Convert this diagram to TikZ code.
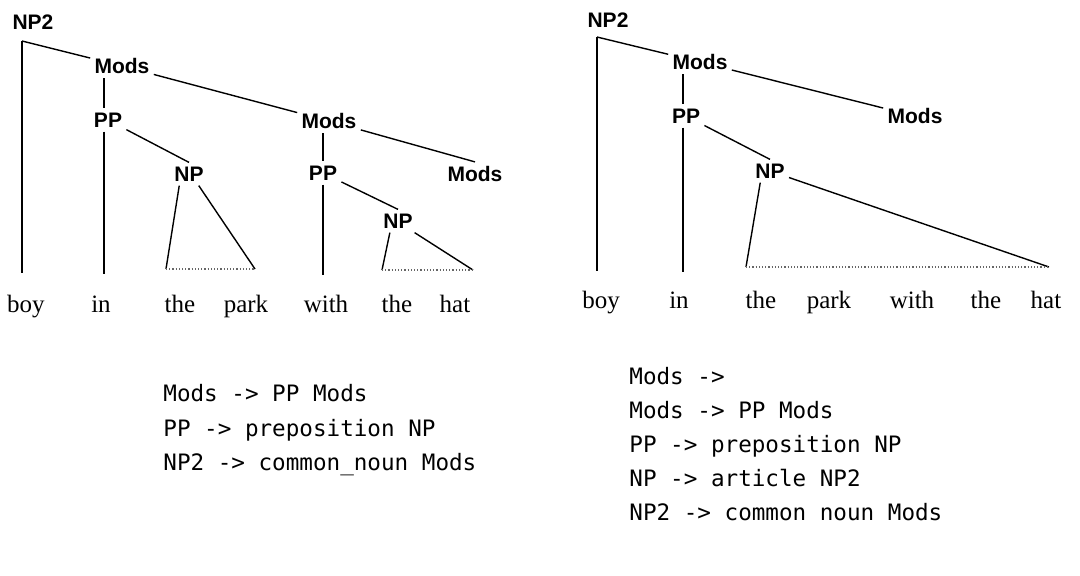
\documentclass[tikz,border=0pt]{standalone}
\usepackage{fontspec}
\setmainfont{Liberation Serif}
\setsansfont{Liberation Sans}
\setmonofont{DejaVu Sans Mono}
\usepackage{tikz}

\tikzset{
    cat/.style = {inner sep = 2pt, font = \fontsize{10.5}{12}\sffamily\bfseries},
    word/.style = {inner sep = 0pt, anchor = base, font = \fontsize{12.5}{14}\selectfont},
    rule/.style = {inner sep = 0pt, anchor = base west, font = \fontsize{11.3}{14}\ttfamily},
    branch/.style = {line width = 0.7pt},
    span/.style = {densely dotted, line width = 0.6pt, black!60}
}

\begin{document}
\begin{tikzpicture}[x = 0.5pt, y = -0.5pt]
        \useasboundingbox (0, 0) rectangle (1080, 575);

        % left tree
        \node[cat] (l-np2) at (33, 22) {NP2};
        \node[cat] (l-mods1) at (122, 66) {Mods};
        \node[cat] (l-pp1) at (108, 120) {PP};
        \node[cat] (l-np1) at (189, 174) {NP};
        \node[cat] (l-mods2) at (329, 121) {Mods};
        \node[cat] (l-pp2) at (323, 173) {PP};
        \node[cat] (l-mods3) at (475, 174) {Mods};
        \node[cat] (l-np3) at (398, 221) {NP};

        \node[word] (l-boy) at (26, 312) {boy};
        \node[word] (l-in) at (101, 312) {in};
        \node[word] (l-the1) at (180, 312) {the};
        \node[word] (l-park) at (246, 312) {park};
        \node[word] (l-with) at (326, 312) {with};
        \node[word] (l-the2) at (397, 312) {the};
        \node[word] (l-hat) at (455, 312) {hat};

        \coordinate (l-c) at (22, 41);
        \coordinate (l-boy-t) at (22, 273);
        \coordinate (l-in-t) at (104, 274);
        \coordinate (l-with-t) at (323, 275);
        \coordinate (l-np1-a) at (166, 269);
        \coordinate (l-np1-b) at (255, 269);
        \coordinate (l-np3-a) at (382, 270);
        \coordinate (l-np3-b) at (473, 270);

        \draw[branch] (l-c) -- (l-mods1);
        \draw[branch] (l-c) -- (l-boy-t);
        \draw[branch] (l-mods1.south -| l-in-t) -- (l-pp1.north -| l-in-t);
        \draw[branch] (l-mods1) -- (l-mods2);
        \draw[branch] (l-pp1.south -| l-in-t) -- (l-in-t);
        \draw[branch] (l-pp1) -- (l-np1.north);
        \draw[branch] (l-np1.-130) -- (l-np1-a);
        \draw[branch] (l-np1.-50) -- (l-np1-b);
        \draw[span] (l-np1-a) -- (l-np1-b);
        \draw[branch] (l-mods2.south -| l-with-t) -- (l-pp2.north -| l-with-t);
        \draw[branch] (l-mods2) -- (l-mods3.north);
        \draw[branch] (l-pp2.south -| l-with-t) -- (l-with-t);
        \draw[branch] (l-pp2) -- (l-np3.north);
        \draw[branch] (l-np3.-125) -- (l-np3-a);
        \draw[branch] (l-np3.-35) -- (l-np3-b);
        \draw[span] (l-np3-a) -- (l-np3-b);

        % right tree
        \node[cat] (r-np2) at (608, 20) {NP2};
        \node[cat] (r-mods1) at (700, 62) {Mods};
        \node[cat] (r-pp1) at (686, 116) {PP};
        \node[cat] (r-np1) at (770, 171) {NP};
        \node[cat] (r-mods2) at (915, 116) {Mods};

        \node[word] (r-boy) at (601, 308) {boy};
        \node[word] (r-in) at (679, 308) {in};
        \node[word] (r-the1) at (761, 308) {the};
        \node[word] (r-park) at (829, 308) {park};
        \node[word] (r-with) at (912, 308) {with};
        \node[word] (r-the2) at (986, 308) {the};
        \node[word] (r-hat) at (1046, 308) {hat};

        \coordinate (r-c) at (597, 37);
        \coordinate (r-boy-t) at (597, 271);
        \coordinate (r-in-t) at (683, 272);
        \coordinate (r-np1-a) at (746, 267);
        \coordinate (r-np1-b) at (1049, 267);

        \draw[branch] (r-c) -- (r-mods1);
        \draw[branch] (r-c) -- (r-boy-t);
        \draw[branch] (r-mods1.south -| r-in-t) -- (r-pp1.north -| r-in-t);
        \draw[branch] (r-mods1) -- (r-mods2);
        \draw[branch] (r-pp1.south -| r-in-t) -- (r-in-t);
        \draw[branch] (r-pp1) -- (r-np1.north);
        \draw[branch] (r-np1.-130) -- (r-np1-a);
        \draw[branch] (r-np1) -- (r-np1-b);
        \draw[span] (r-np1-a) -- (r-np1-b);

        % grammar rules
        \node[rule] (l-rule1) at (163, 401) {Mods -> PP Mods};
        \node[rule] (l-rule2) at (163, 436) {PP -> preposition NP};
        \node[rule] (l-rule3) at (163, 470) {NP2 -> common\_noun Mods};

        \node[rule] (r-rule1) at (629, 384) {Mods ->};
        \node[rule] (r-rule2) at (629, 418) {Mods -> PP Mods};
        \node[rule] (r-rule3) at (629, 452) {PP -> preposition NP};
        \node[rule] (r-rule4) at (629, 486) {NP -> article NP2};
        \node[rule] (r-rule5) at (629, 520) {NP2 -> common noun Mods};
    \end{tikzpicture}
\end{document}
